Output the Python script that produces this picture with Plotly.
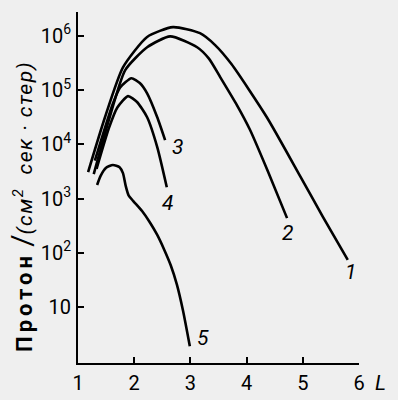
import math
import plotly.graph_objects as go

# ---- data ----
L1 = [1.18, 1.48, 1.80, 2.23, 2.69, 3.17, 3.44, 3.73, 4.36, 4.95, 5.36, 5.80]
F1 = [3090, 31600, 263000, 955000, 1450000, 1120000, 676000, 302000, 31600, 2630, 457, 74]

L2 = [1.28, 1.55, 1.84, 2.23, 2.64, 3.12, 3.33, 3.53, 3.83, 4.06, 4.38, 4.72]
F2 = [2820, 28200, 234000, 617000, 977000, 617000, 380000, 174000, 52500, 18600, 3160, 437]

L3 = [1.30, 1.62, 1.75, 1.95, 2.10, 2.23, 2.41, 2.55]
F3 = [5010, 56200, 112000, 166000, 135000, 87100, 31600, 12000]

L4 = [1.33, 1.55, 1.70, 1.89, 2.05, 2.23, 2.41, 2.58]
F4 = [3550, 20000, 47900, 77600, 60300, 31600, 8910, 1620]

L5 = [1.34, 1.40, 1.50, 1.62, 1.74, 1.80, 1.85, 1.90, 1.98, 2.14, 2.28, 2.41, 2.53, 2.65, 2.76, 2.87, 2.99]
F5 = [1780, 2600, 3700, 4170, 3800, 2950, 1700, 1150, 910, 590, 363, 214, 117, 59, 26, 8.5, 1.9]

curve_names = ["1", "2", "3", "4", "5"]
x_ticks = [1, 2, 3, 4, 5, 6]
y_ticks = [10, 100, 1e3, 1e4, 1e5, 1e6]
y_ticktext = ["10", "10<sup>2</sup>", "10<sup>3</sup>", "10<sup>4</sup>", "10<sup>5</sup>", "10<sup>6</sup>"]

# curve-number label anchor points (data coords)
lab_L = [5.84, 4.72, 2.77, 2.60, 3.22]
lab_F = [45, 233, 8900, 830, 2.7]

FONT = "Roboto, sans-serif"
BG = "#efefef"

fig = go.Figure()
for xs, ys, nm in zip([L1, L2, L3, L4, L5], [F1, F2, F3, F4, F5], curve_names):
    fig.add_trace(go.Scatter(x=xs, y=ys, mode="lines", name=nm,
                             line=dict(color="black", width=2.6, shape="spline", smoothing=0.6),
                             showlegend=False, hoverinfo="skip"))

for t, lx, ly in zip(curve_names, lab_L, lab_F):
    fig.add_annotation(x=lx, y=math.log10(ly), text="<i>" + t + "</i>",
                       showarrow=False, font=dict(family=FONT, size=21, color="black"))

fig.add_annotation(xref="paper", yref="paper", x=1.078, y=-0.057, text="<i>L</i>",
                   xanchor="center", yanchor="middle", showarrow=False,
                   font=dict(family=FONT, size=21, color="black"))

fig.add_annotation(xref="paper", yref="paper", x=-0.199, y=0.445, textangle=-90,
                   xanchor="center", yanchor="middle",
                   text="<b><span style='font-size:22px;letter-spacing:4px'>Протон</span></b> "
                        "<span style='font-size:30px'>/</span>"
                        "<i><span style='letter-spacing:1.5px'>(см<sup>2</sup>  сек · стер)</span></i>",
                   showarrow=False, font=dict(family=FONT, size=21, color="black"))

fig.update_layout(
    width=398, height=400,
    margin=dict(l=78, r=39, t=12, b=37, autoexpand=False),
    paper_bgcolor=BG, plot_bgcolor=BG,
    font=dict(family=FONT, size=20, color="black"),
)
fig.update_xaxes(range=[1, 6], tickvals=x_ticks, ticktext=[str(v) for v in x_ticks],
                 showgrid=False, zeroline=False, showline=True, linecolor="black", linewidth=2,
                 ticks="inside", ticklen=6, tickwidth=2, tickcolor="black",
                 ticklabelstandoff=1, automargin=False)
fig.update_yaxes(type="log", range=[-0.03, 6.44], tickvals=y_ticks, ticktext=y_ticktext,
                 showgrid=False, zeroline=False, showline=True, linecolor="black", linewidth=2,
                 ticks="inside", ticklen=6, tickwidth=2, tickcolor="black",
                 ticklabelstandoff=1, automargin=False)

fig.write_html("out.html", config={"displayModeBar": False},
               post_script="document.body.style.margin='0';document.body.style.background='#efefef';")
